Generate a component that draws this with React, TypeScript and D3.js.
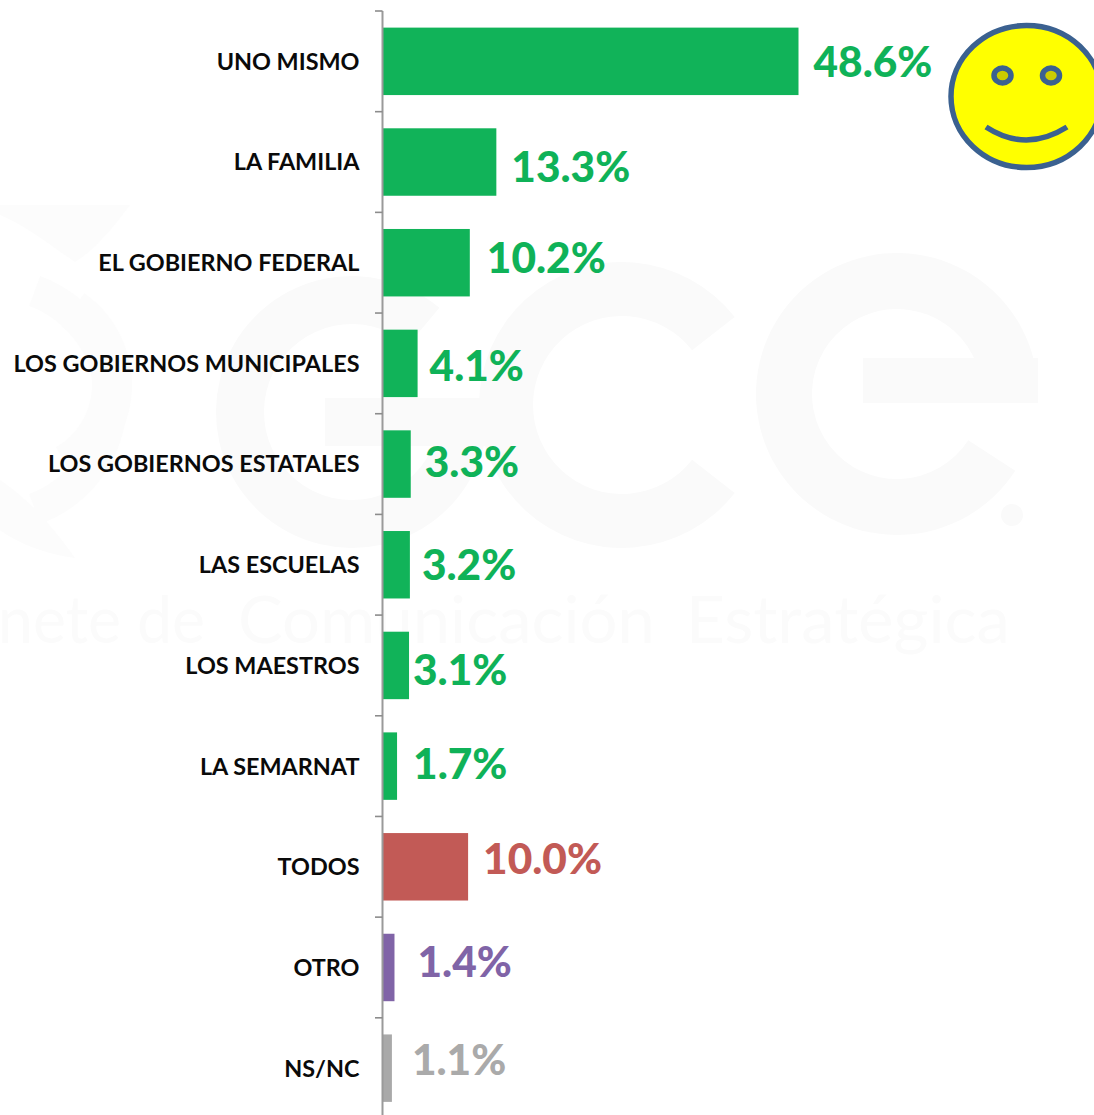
import React from "react";
import * as d3 from "d3";

const categories = ["UNO MISMO","LA FAMILIA","EL GOBIERNO FEDERAL","LOS GOBIERNOS MUNICIPALES","LOS GOBIERNOS ESTATALES","LAS ESCUELAS","LOS MAESTROS","LA SEMARNAT","TODOS","OTRO","NS/NC"];
const values = [48.6,13.3,10.2,4.1,3.3,3.2,3.1,1.7,10.0,1.4,1.1];
const groups = ["actor","actor","actor","actor","actor","actor","actor","actor","todos","otro","nsnc"];
const groupColors: Record<string,string> = {actor:"#11b359",todos:"#c25a56",otro:"#8064a7",nsnc:"#a9a9a9"};
const labelColors: Record<string,string> = {actor:"#0fb258",todos:"#c25a56",otro:"#8064a7",nsnc:"#aaaaaa"};
// hand-placed data label offsets in the original: [dx from bar end, dy from band centre]
const labelNudges = [[15,0],[15,5],[17,-5],[12,2],[14,-2],[12,0],[4,4],[16,-2],[15,-8],[23,-6],[20,-8]];

const W = 1094, H = 1115;
const FONT = "Lato, 'Open Sans', sans-serif";
const deg = Math.PI/180;
const ring = (r0:number,r1:number,a0:number,a1:number) =>
  d3.arc()({innerRadius:r0,outerRadius:r1,startAngle:a0*deg,endAngle:a1*deg}) as string;

function Watermark() {
  return (
    <g fill="#fafafa">
      {/* leaf mark */}
      <g fill="#fcfcfc">
        <path d="M0,205 L130,205 C115,225 95,250 75,262 C50,245 25,225 0,215 Z"/>
        <path transform="translate(20,385)" d={ring(72,112,35,150)} />
        <path transform="translate(-5,400)" d={ring(100,132,20,160)} />
        <path d="M0,480 C30,500 55,530 75,558 C50,555 20,545 0,530 Z"/>
      </g>
      {/* G */}
      <path transform="translate(352,412)" d={ring(88,136,-270,40)} />
      <rect x={325} y={398} width={160} height={48}/>
      {/* c */}
      <path transform="translate(622,405)" d={ring(89,143,-232,52)} />
      {/* e */}
      <path transform="translate(897,394)" d={ring(85,141,-237,90)} />
      <rect x={863} y={358} width={175} height={45}/>
      <circle cx={1012} cy={515} r={11}/>
      <g fontFamily="Lato, sans-serif" fontWeight={400} fontSize={66} fill="#fbfbfb">
        <text x={-2} y={643} textLength={207} lengthAdjust="spacingAndGlyphs">nete de</text>
        <text x={238} y={643} textLength={417} lengthAdjust="spacingAndGlyphs">Comunicación</text>
        <text x={686} y={643} textLength={324} lengthAdjust="spacingAndGlyphs">Estratégica</text>
      </g>
    </g>
  );
}

export default function App() {
  const x = d3.scaleLinear().domain([0,48.6]).range([382.5,798.5]);
  const y = d3.scaleBand<string>().domain(categories).range([11,1118.5]).paddingInner(0.33).paddingOuter(0.165);
  const step = y.step();
  const ticks = d3.range(categories.length).map(i => 11 + i*step);
  return (
    <svg width={W} height={H} viewBox={`0 0 ${W} ${H}`} style={{position:"absolute",left:0,top:0,display:"block"}}>
      <rect width={W} height={H} fill="#fff"/>
      <Watermark/>
      {categories.map((c,i)=>{
        const g = groups[i];
        const by = y(c)!, bh = y.bandwidth(), cy = by+bh/2;
        const [dx,dy] = labelNudges[i];
        return (
          <g key={c}>
            <rect x={x(0)} y={by} width={x(values[i])-x(0)} height={bh} fill={groupColors[g]}/>
            <text x={359.5} y={cy} dy="0.36em" textAnchor="end" fontFamily={FONT} fontWeight={700} fontSize={23.4} fill="#0a0a0a">{c}</text>
            <text x={x(values[i])+dx} y={cy+dy} dy="0.36em" fontFamily={FONT} fontWeight={900} fontSize={42.4} fill={labelColors[g]}>{d3.format(".1f")(values[i])+"%"}</text>
          </g>
        );
      })}
      <path d={`M${x(0)},11V${H}`} fill="none" stroke="#9a9a9a" strokeWidth={2}/>
      {ticks.map((t,i)=>(
        <line key={i} x1={375} x2={x(0)} y1={t} y2={t} stroke="#8c8c8c" strokeWidth={1.6}/>
      ))}
      <g stroke="#3b6190" strokeWidth={5.5}>
        <ellipse cx={1026.5} cy={96.5} rx={75.5} ry={71} fill="#ffff00"/>
        <ellipse cx={1002.5} cy={75.5} rx={8.5} ry={7.5} fill="#cccc00"/>
        <ellipse cx={1051} cy={75.5} rx={8.5} ry={7.5} fill="#cccc00"/>
        <path d="M986,127 Q1026,153 1067,127" fill="none"/>
      </g>
    </svg>
  );
}
